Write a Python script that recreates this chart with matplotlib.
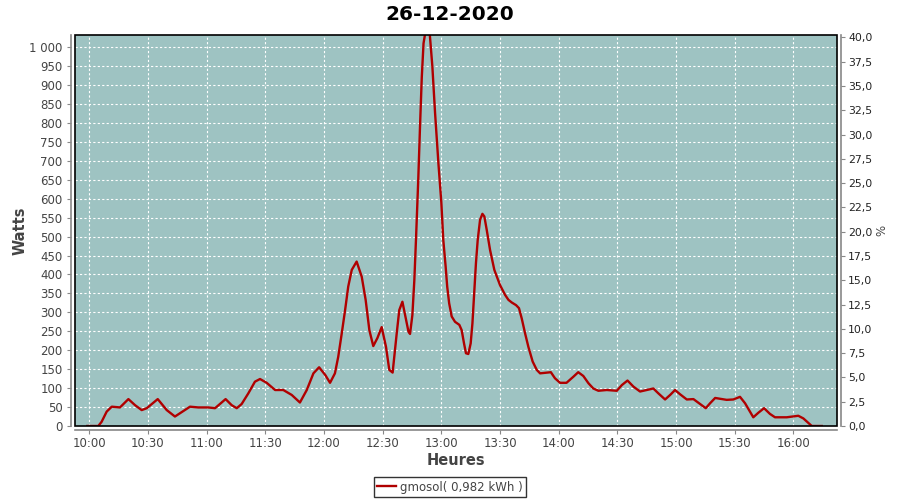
import matplotlib
matplotlib.use("Agg")
import matplotlib.pyplot as plt
from matplotlib.patches import Rectangle
from matplotlib.ticker import FuncFormatter, MultipleLocator

plt.rcParams['font.family'] = ['DejaVu Sans']

# minutes after 10:00
minutes = [
    -1, 0, 4.6, 6.3, 8.9, 11.5, 15.7, 20.0, 23.4, 26.8, 29.4, 35.0, 39.6, 43.8,
    51.5, 55.7, 60.8, 64.3, 69.7, 72.8, 75.4, 77.9, 81.3, 84.7, 87.3, 90.7,
    95.0, 99.2, 103.5, 107.7, 111.2, 114.6, 117.5, 120.6, 123.1, 125.6, 127.3,
    129.1, 130.8, 132.4, 134.2, 136.7, 139.3, 141.3, 143.2, 145.2, 147.3,
    149.5, 151.7, 153.4, 155.1, 157.2, 158.5, 160.1, 162.0, 163.2, 164.0,
    165.2, 166.2, 167.1, 168.2, 169.1, 170.0, 170.9, 172.5, 174.0, 175.4,
    176.8, 178.5, 180.0, 181.0, 182.2, 183.0, 184.0, 185.3, 187.0, 189.2,
    190.4, 191.6, 192.6, 193.8, 195.0, 195.9, 196.9, 197.7, 198.6, 199.8,
    201.0, 202.0, 203.2, 204.9, 207.1, 210.0, 212.6, 214.3, 216.0, 218.2,
    219.7, 221.1, 222.8, 224.5, 226.7, 228.8, 230.5, 236.0, 238.1, 240.7,
    244.0, 247.5, 250.0, 252.6, 255.2, 257.7, 260.3, 264.6, 269.7, 272.3,
    275.2, 278.2, 281.6, 285.0, 288.4, 291.0, 294.4, 297.0, 299.5, 302.0,
    305.5, 308.9, 312.3, 315.2, 317.4, 320.0, 322.5, 325.9, 329.3, 332.7,
    335.3, 339.5, 342.1, 345.0, 348.0, 350.6, 356.6, 362.5, 365.1, 369.4,
    374.5,
]
watts = [
    0, 0, 0, 11, 38, 51, 49, 71, 55, 42, 47, 71, 42, 25,
    51, 49, 49, 47, 71, 55, 47, 58, 86, 117, 124, 114,
    95, 95, 82, 62, 95, 139, 155, 135, 114, 139, 183,
    245, 306, 368, 412, 434, 394, 333, 253, 211, 232,
    261, 209, 148, 141, 245, 306, 328, 280, 249, 243,
    293, 385, 500, 650, 790, 920, 1010, 1060, 1040, 950,
    826, 694, 590, 491, 421, 368, 324, 289, 275, 267,
    253, 218, 192, 190, 218, 271, 359, 430, 491, 544,
    560, 553, 518, 465, 412, 372, 346, 333, 326, 319,
    311, 284, 245, 209, 170, 148, 139, 142, 126, 114,
    114, 130, 142, 132, 113, 99, 93, 95, 93, 108,
    120, 104, 91, 95, 99, 86, 70, 82, 95, 84,
    70, 71, 58, 47, 60, 74, 72, 69, 70, 77,
    60, 23, 35, 47, 32, 23, 23, 27, 20, 0,
    0,
]

tick_minutes = [0, 30, 60, 90, 120, 150, 180, 210, 240, 270, 300, 330, 360]
tick_labels = ["10:00", "10:30", "11:00", "11:30", "12:00", "12:30", "13:00",
               "13:30", "14:00", "14:30", "15:00", "15:30", "16:00"]

title = "26-12-2020"
series_label = "gmosol( 0,982 kWh )"

BG = "#9ec3c2"
RED = "#b00000"
TXT = "#444444"
AX = "#888888"

fig = plt.figure(figsize=(9, 5), dpi=100)
ax = fig.add_axes([75/900, 74/500, 762/900, 391/500])
ax.set_facecolor(BG)

ax.plot(minutes, watts, color=RED, lw=1.7, solid_joinstyle='round', zorder=2,
        label=series_label)

ax.set_xlim(-7.3, 382.3)
ax.set_ylim(0, 1032)
ax.set_xticks(tick_minutes)
ax.set_xticklabels(tick_labels)
ax.yaxis.set_major_locator(MultipleLocator(50))
ax.yaxis.set_major_formatter(FuncFormatter(
    lambda v, p: f"{int(v):,}".replace(",", " ")))

ax.grid(True, color="white", linestyle=(0, (2, 2)), linewidth=0.8)
ax.set_axisbelow(True)

ax2 = ax.twinx()
ax2.set_ylim(0, 40.25)
ax2.yaxis.set_major_locator(MultipleLocator(2.5))
ax2.yaxis.set_major_formatter(FuncFormatter(
    lambda v, p: f"{v:.1f}".replace(".", ",")))

for a in (ax, ax2):
    for s in a.spines.values():
        s.set_visible(False)
    a.tick_params(colors=AX, labelcolor=TXT, labelsize=8.5, length=3,
                  width=0.8, direction='out')

for side in ("left", "bottom"):
    sp = ax.spines[side]
    sp.set_visible(True)
    sp.set_position(("outward", 3))
    sp.set_color(AX)
    sp.set_linewidth(1.2)
sp = ax2.spines["right"]
sp.set_visible(True)
sp.set_position(("outward", 3))
sp.set_color(AX)
sp.set_linewidth(1.2)
ax.tick_params(axis='x', pad=2)
ax.tick_params(axis='y', pad=3)
ax2.tick_params(axis='y', pad=2, labelcolor="#222222", labelsize=7.8)

frame = Rectangle((0, 0), 1, 1, transform=ax.transAxes, fill=False,
                  edgecolor="black", linewidth=1.2, zorder=5, clip_on=False)
ax2.add_patch(frame)

ax.set_ylabel("Watts", fontsize=10.5, color=TXT, fontweight='bold', labelpad=1)
ax.set_xlabel("Heures", fontsize=10.5, color=TXT, fontweight='bold', labelpad=2)
ax2.set_ylabel("%", fontsize=8.5, color=TXT, labelpad=2)

fig.text(0.5, 0.972, title, ha='center', va='center', fontsize=14.5,
         fontweight='bold', color='black')

leg = fig.legend(loc='center', bbox_to_anchor=(0.5, 0.026), frameon=True,
                 fancybox=False, fontsize=8.5, handlelength=1.6,
                 handletextpad=0.35, borderpad=0.3, borderaxespad=0)
leg.get_frame().set_edgecolor('black')
leg.get_frame().set_linewidth(1.0)
for t in leg.get_texts():
    t.set_color(TXT)

fig.savefig("out.png", dpi=100)
